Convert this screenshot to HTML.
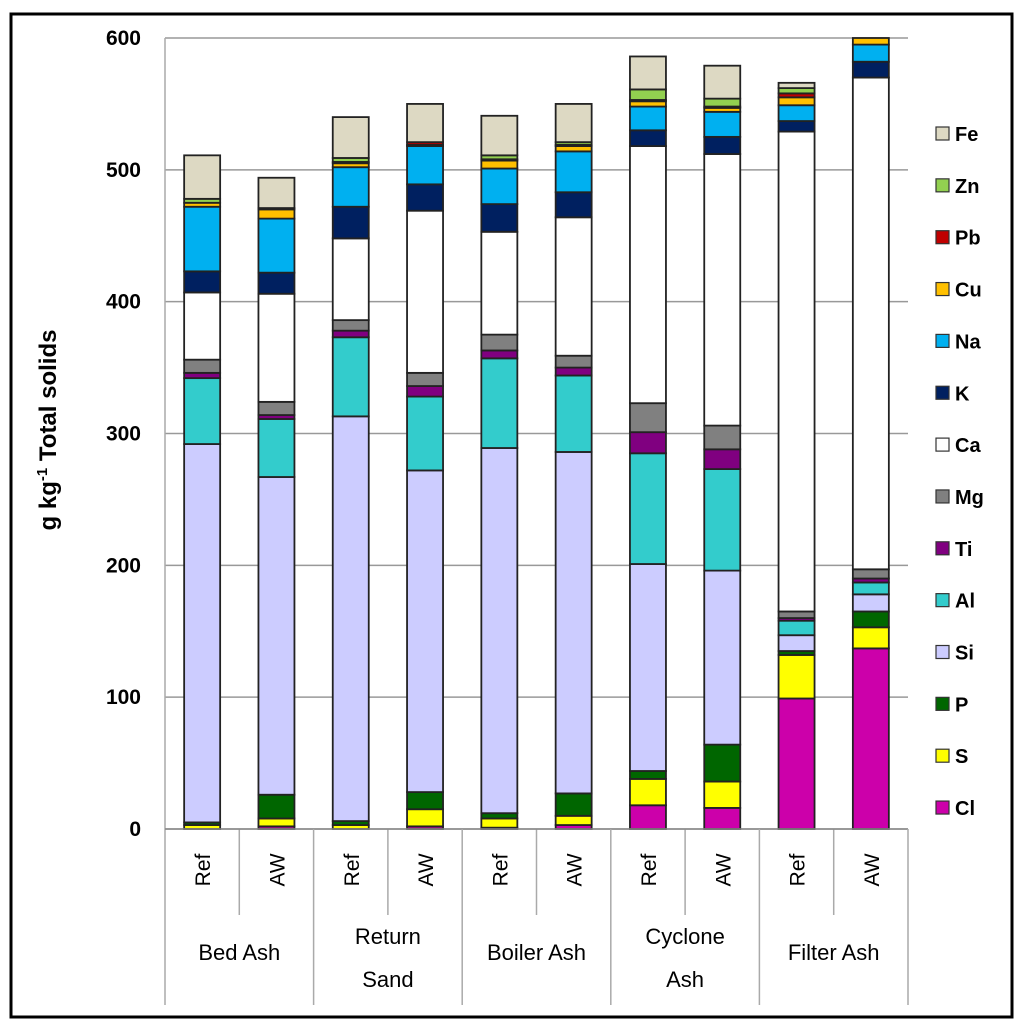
<!DOCTYPE html>
<html><head><meta charset="utf-8"><style>
body{margin:0;background:#fff;}
svg{display:block;font-family:"Liberation Sans",Arial,sans-serif;}
</style></head><body>
<svg id="chart" width="1024" height="1031">
<rect x="11" y="14" width="1001" height="1003" fill="#fff" stroke="#000" stroke-width="3"/>
<g id="grid"></g><g id="bars"></g><g id="axis"></g><g id="legend"></g>
</svg>
<script>
const elements=["Cl","S","P","Si","Al","Ti","Mg","Ca","K","Na","Cu","Pb","Zn","Fe"];
const colors=["#cc00aa","#ffff00","#006600","#ccccff","#33cccc","#800080","#808080","#ffffff","#002060","#00b0f0","#ffc000","#c00000","#92d050","#ddd9c3"];
const samples=["Ref","AW","Ref","AW","Ref","AW","Ref","AW","Ref","AW"];
const groups=[["Bed Ash"],["Return","Sand"],["Boiler Ash"],["Cyclone","Ash"],["Filter Ash"]];
const yTicks=[0,100,200,300,400,500,600];
const Cl=[0,2,0,2,1,3,18,16,99,137];
const S=[3,6,3,13,7,7,20,20,33,16];
const P=[2,18,3,13,4,17,6,28,3,12];
const Si=[287,241,307,244,277,259,157,132,12,13];
const Al=[50,44,60,56,68,58,84,77,11,9];
const Ti=[4,3,5,8,6,6,16,15,2,3];
const Mg=[10,10,8,10,12,9,22,18,5,7];
const Ca=[51,82,62,123,78,105,195,206,364,373];
const K=[16,16,24,20,21,19,12,13,8,12];
const Na=[49,41,30,29,27,31,18,19,12,13];
const Cu=[3,7,3,1,6,4,4,3,6,5];
const Pb=[0,1,1,2,1,1,1,1,3,0];
const Zn=[3,0,3,0,3,2,8,6,4,0];
const Fe=[33,23,31,29,30,29,25,25,4,0];
const series=[Cl,S,P,Si,Al,Ti,Mg,Ca,K,Na,Cu,Pb,Zn,Fe];
const NS="http://www.w3.org/2000/svg";
const x0=165,catW=74.3,y0=829,yTop=38,yMax=600,barW=36;
const y=v=>y0-(v/yMax)*(y0-yTop);
const xc=i=>x0+catW*(i+0.5);
function mk(tag,attrs,parent,text){const e=document.createElementNS(NS,tag);for(const k in attrs)e.setAttribute(k,attrs[k]);if(text!==undefined)e.textContent=text;parent.appendChild(e);return e;}
const grid=document.getElementById('grid'),bars=document.getElementById('bars'),axis=document.getElementById('axis'),leg=document.getElementById('legend');
yTicks.forEach(t=>{
 const l=mk('line',{x1:x0,x2:x0+catW*10,y1:y(t),y2:y(t),stroke:'#999','stroke-width':1.5},grid);
 
 
 const tx=mk('text',{x:141,y:y(t)+7,'text-anchor':'end','font-size':21,'font-weight':'bold'},axis,t);
 
 
});
samples.forEach((s,i)=>{
 let c=0;
 series.forEach((arr,k)=>{
  const v=arr[i]; if(v<=0)return;
  const top=Math.min(c+v,yMax);
  const r=mk('rect',{x:xc(i)-barW/2,y:y(top),width:barW,height:y(c)-y(top),fill:colors[k],stroke:'#222','stroke-width':1.8},bars);
  
  
  c+=v;
 });
 const t=mk('text',{transform:`translate(${xc(i)+8},870) rotate(-90)`,'text-anchor':'middle','font-size':21},axis,s);
 
 
 if(i%2===0){const l=mk('line',{x1:xc(i)+catW/2,x2:xc(i)+catW/2,y1:y0,y2:915,stroke:'#aaa','stroke-width':1.5},axis);
  
  }
});
mk('line',{x1:x0,x2:x0,y1:yTop,y2:1005,stroke:'#aaa','stroke-width':1.5},axis);
mk('line',{x1:x0,x2:x0+catW*10,y1:y0,y2:y0,stroke:'#888','stroke-width':1.5},axis);
groups.forEach((g,j)=>{
 const xr=x0+catW*2*(j+1);
 const l=mk('line',{x1:xr,x2:xr,y1:y0,y2:1005,stroke:'#aaa','stroke-width':1.5},axis);
 
 
 const cx=x0+catW*(2*j+1);
 g.forEach((line,k)=>{
  const yy=g.length===1?960:944+k*43;
  const t=mk('text',{x:cx,y:yy,'text-anchor':'middle','font-size':22},axis,line);
  
  
 });
});
const yt=mk('text',{transform:'translate(56,430) rotate(-90)','text-anchor':'middle','font-size':24,'font-weight':'bold'},axis);


yt.innerHTML='g kg<tspan dy="-9" font-size="15">-1</tspan><tspan dy="9"> Total solids</tspan>';
for(let k=elements.length-1;k>=0;k--){
 const idx=elements.length-1-k, ly=134+idx*51.85;
 const g=mk('g',{},leg);
 
 
 mk('rect',{x:936,y:ly-7,width:13,height:13,fill:colors[k],stroke:'#333','stroke-width':1.2},g);
 mk('text',{x:955,y:ly+7,'font-size':20,'font-weight':'bold'},g,elements[k]);
}
</script>
</body></html>
